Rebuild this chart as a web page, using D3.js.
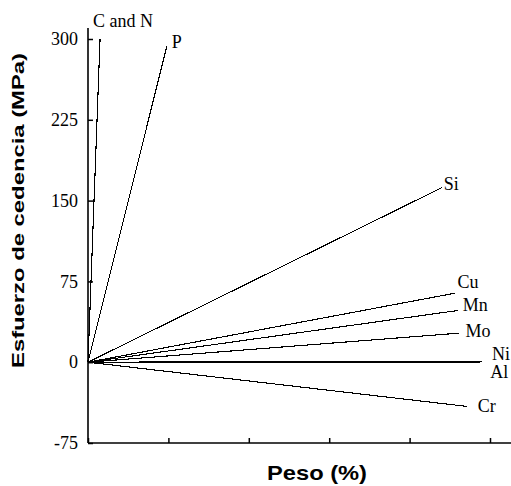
<!DOCTYPE html>
<html>
<head>
    <meta charset="utf-8">
    <style>
        body { margin: 0; background: #fff; }
        .tick text { font-family: "Liberation Serif", "Times New Roman", serif; font-size: 18px; fill: #000; }
        .elem-label { font-family: "Liberation Serif", "Times New Roman", serif; font-size: 18px; fill: #000; }
        .axis-title { font-family: "Liberation Sans", Arial, sans-serif; font-weight: bold; fill: #000; }
    </style>
    <script src="https://d3js.org/d3.v7.min.js"></script>
</head>
<body>
    <div id="chart"></div>

    <script>
        // Elements and the end point of each strengthening line (weight %, MPa)
        const elements = ["C and N", "P", "Si", "Cu", "Mn", "Mo", "Ni", "Al", "Cr"];
        const weightEnd = [0.15, 0.98, 4.40, 4.56, 4.60, 4.62, 4.90, 4.88, 4.71];
        const stressEnd = [300, 293, 162, 64, 48, 27, 1, 0, -41];
        const yTicks = [-75, 0, 75, 150, 225, 300];
        const xTicks = [0, 1, 2, 3, 4, 5];

        const width = 511, height = 486;

        const svg = d3.select("#chart").append("svg")
            .attr("width", width)
            .attr("height", height);

        const x = d3.scaleLinear().domain([0, 5]).range([88, 490]);
        const y = d3.scaleLinear().domain([-75, 300]).range([443, 39]);

        // y axis, ticks pointing inward
        svg.append("g")
            .attr("transform", `translate(${x(0)},0)`)
            .call(d3.axisLeft(y).tickValues(yTicks).tickSize(-5).tickSizeOuter(0).tickPadding(10)
                .tickFormat(d => d < 0 ? "-" + Math.abs(d) : d))
            .call(g => g.select(".domain").remove())
            .call(g => g.selectAll(".tick line").attr("stroke", "#000").attr("stroke-width", 1.5));

        // x axis, ticks pointing up, no labels
        svg.append("g")
            .attr("transform", `translate(0,${y(-75)})`)
            .call(d3.axisBottom(x).tickValues(xTicks).tickSize(-5).tickSizeOuter(0).tickFormat(""))
            .call(g => g.select(".domain").remove())
            .call(g => g.selectAll(".tick line").attr("stroke", "#000").attr("stroke-width", 1.5));

        // axis lines
        svg.append("line")
            .attr("x1", x(0)).attr("x2", x(0))
            .attr("y1", 28).attr("y2", y(-75))
            .attr("stroke", "#000").attr("stroke-width", 1.6);
        svg.append("line")
            .attr("x1", x(0)).attr("x2", width)
            .attr("y1", y(-75)).attr("y2", y(-75))
            .attr("stroke", "#000").attr("stroke-width", 1.6);

        const data = elements.map((name, i) => ({ name, w: weightEnd[i], s: stressEnd[i] }));

        // lines from origin
        svg.selectAll(".elem-line")
            .data(data)
            .enter()
            .append("line")
            .attr("class", "elem-line")
            .attr("x1", x(0)).attr("y1", y(0))
            .attr("x2", d => x(d.w)).attr("y2", d => y(d.s))
            .attr("stroke", "#000")
            .attr("stroke-width", 1.1)
            .attr("shape-rendering", "crispEdges");

        // label offsets from each line's end
        const labelOffset = {
            "C and N": [-7, -12], "P": [5, 1], "Si": [2, 2], "Cu": [3, -5],
            "Mn": [5, 1], "Mo": [6, 4], "Ni": [10, -1], "Al": [10, 16], "Cr": [11, 6]
        };

        svg.selectAll(".elem-label")
            .data(data)
            .enter()
            .append("text")
            .attr("class", "elem-label")
            .attr("x", d => x(d.w) + labelOffset[d.name][0])
            .attr("y", d => y(d.s) + labelOffset[d.name][1])
            .text(d => d.name);

        // axis titles
        svg.append("text")
            .attr("class", "axis-title")
            .attr("transform", "translate(24,368) rotate(-90)")
            .attr("font-size", 17)
            .attr("textLength", 315)
            .attr("lengthAdjust", "spacingAndGlyphs")
            .text("Esfuerzo de cedencia (MPa)");

        svg.append("text")
            .attr("class", "axis-title")
            .attr("x", 267)
            .attr("y", 480)
            .attr("font-size", 21)
            .attr("textLength", 100)
            .attr("lengthAdjust", "spacingAndGlyphs")
            .text("Peso (%)");
    </script>
</body>
</html>
